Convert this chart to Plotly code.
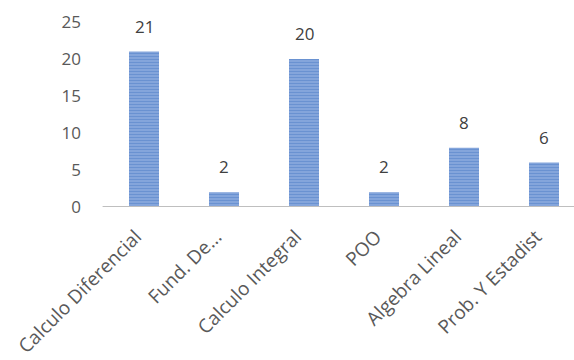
import plotly.graph_objects as go

categories = ["Calculo Diferencial", "Fund. De...", "Calculo Integral", "POO", "Algebra Lineal", "Prob. Y Estadist"]
values = [21, 2, 20, 2, 8, 6]
y_ticks = [0, 5, 10, 15, 20, 25]

FONT = "Open Sans"

fig = go.Figure()
fig.add_trace(go.Bar(
    x=list(range(len(categories))),
    y=values,
    width=0.375,
    marker=dict(
        color="#9DB9E6",
        line=dict(width=0),
        pattern=dict(shape="-", fgcolor="#3A6DBD", bgcolor="#9AB6E4", size=3, solidity=0.66, fillmode="overlay"),
    ),
    hoverinfo="skip",
))

for i, v in enumerate(values):
    fig.add_annotation(x=i, y=v, text=str(v), showarrow=False, yanchor="bottom",
                       yshift=12, font=dict(family=FONT, size=17, color="#404040"))

fig.update_layout(
    width=574, height=360,
    margin=dict(l=104, r=0, t=22, b=153),
    plot_bgcolor="white", paper_bgcolor="white",
    showlegend=False,
    font=dict(family=FONT, size=17, color="#595959"),
    xaxis=dict(
        range=[-0.5, 5.375],
        tickmode="array", tickvals=list(range(len(categories))), ticktext=categories,
        tickangle=-45, showgrid=False, zeroline=False,
        showline=False, ticks="",
        ticklabelstandoff=14, ticklabelshift=-8,
        tickfont=dict(family=FONT, size=19, color="#595959"),
    ),
    yaxis=dict(
        range=[0, 25], tickmode="array", tickvals=y_ticks,
        showgrid=False, zeroline=False, showline=False, ticks="",
        ticklabelstandoff=22,
        tickfont=dict(family=FONT, size=17, color="#595959"),
    ),
)

fig.add_shape(type="line", xref="paper", yref="y", x0=-0.003, x1=1, y0=0, y1=0,
              line=dict(color="#BFBFBF", width=2))

fig.write_html("out.html")
